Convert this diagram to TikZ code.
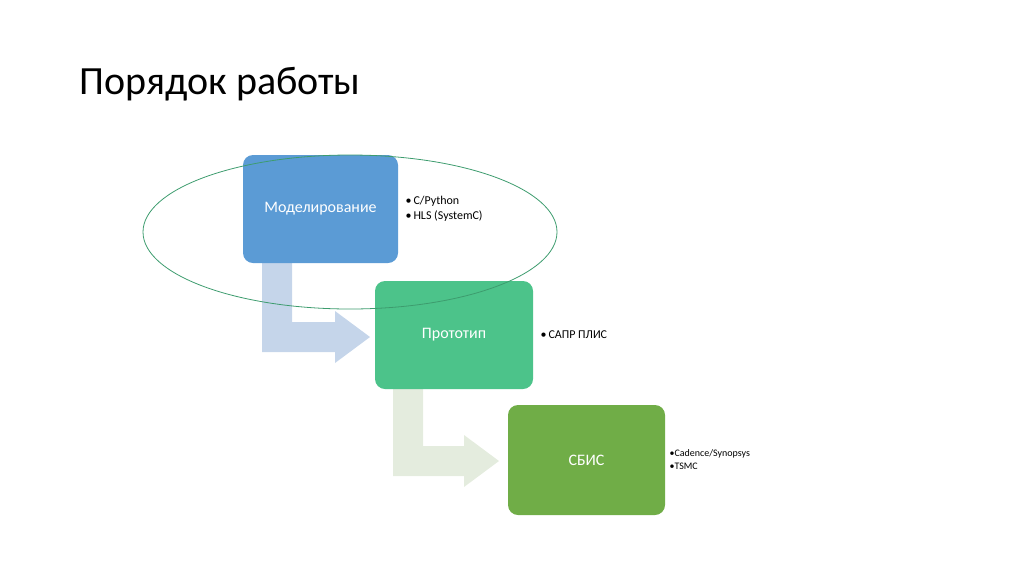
\documentclass[tikz,border=0pt]{standalone}
\usepackage{fontspec}
\setmainfont{Carlito}
\begin{document}
\begin{tikzpicture}[x=1pt,y=-1pt,
  box/.style={rounded corners=10pt,text=white,font=\fontsize{16}{18}\selectfont,align=center},
  note/.style={anchor=west,align=left,font=\fontsize{12}{15}\selectfont}]
\useasboundingbox (0,0) rectangle (1024,574);
\definecolor{b1}{RGB}{91,155,213}
\definecolor{b2}{RGB}{76,195,138}
\definecolor{b3}{RGB}{112,173,71}
\definecolor{a1}{RGB}{197,213,234}
\definecolor{a2}{RGB}{228,236,222}
\node[anchor=west,font=\fontsize{40}{44}\selectfont] (title) at (76,84) {Порядок работы};
% arrows
\fill[a1] (262,263) -- (292,263) -- (292,322) -- (335,322) -- (335,311) -- (370,337) -- (335,363) -- (335,352) -- (262,352) -- cycle;
\fill[a2] (393,389) -- (423,389) -- (423,446) -- (464,446) -- (464,435) -- (499,461) -- (464,487) -- (464,476) -- (393,476) -- cycle;
\fill[b1,rounded corners=10pt] (243,155) rectangle (398,263);
\node[box] (m) at (320.5,209) {Моделирование};
\fill[b2,rounded corners=10pt] (375,281) rectangle (533,389);
\node[box] (p) at (454,335) {Прототип};
\fill[b3,rounded corners=10pt] (508,405) rectangle (665,515);
\node[box] (s) at (586.5,460) {СБИС};
\draw[color=b2!80!black,line width=0.8pt] (350,232) ellipse [x radius=207, y radius=77];
\node[note] (n1) at (402,209) {\textbullet\,C/Python\\\textbullet\,HLS (SystemC)};
\node[note] (n2) at (537,335) {\textbullet\,САПР ПЛИС};
\node[note,font=\fontsize{10}{13}\selectfont] (n3) at (666,460) {\textbullet Cadence/Synopsys\\\textbullet TSMC};
\end{tikzpicture}
\end{document}
